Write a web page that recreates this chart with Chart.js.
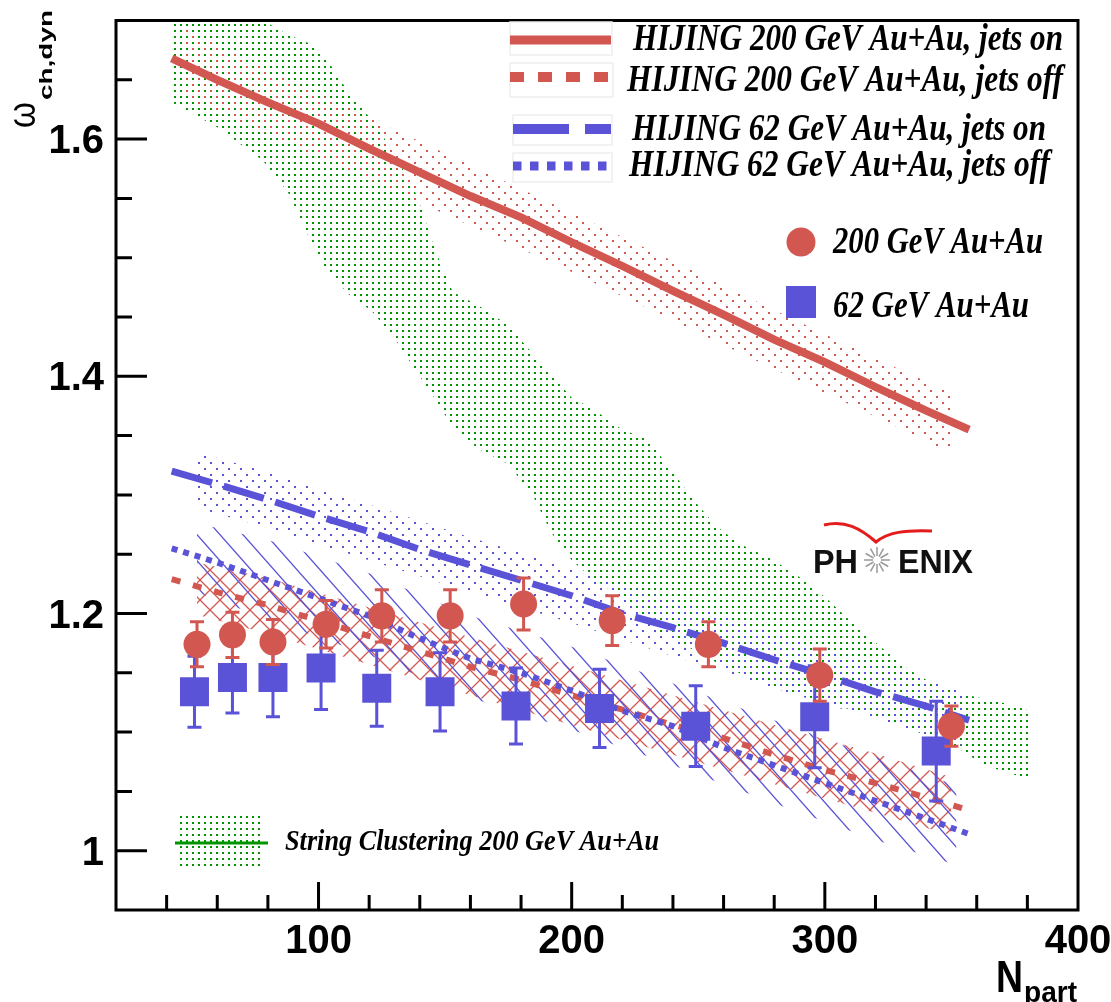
<!DOCTYPE html>
<html>
<head>
<meta charset="utf-8">
<title>omega ch,dyn vs Npart</title>
<script src="https://cdn.jsdelivr.net/npm/chart.js@4.4.1/dist/chart.umd.min.js"></script>
<style>
  html, body { margin: 0; padding: 0; background: #fff; }
  #chart { display: block; }
</style>
</head>
<body>
<canvas id="chart" width="1111" height="1002"></canvas>
<script>
// ---- values ----
const xTickValues = [100, 200, 300, 400];
const yTickValues = [1, 1.2, 1.4, 1.6];
const yTickLabels = ['1', '1.2', '1.4', '1.6'];

// PHENIX data points
const npart200 = [52, 66, 82, 103, 125, 152, 181, 216, 254, 298, 350];
const omega200 = [1.174, 1.182, 1.176, 1.191, 1.198, 1.198, 1.208, 1.194, 1.174, 1.148, 1.105];
const err200 = [0.019, 0.019, 0.019, 0.020, 0.022, 0.022, 0.022, 0.021, 0.019, 0.022, 0.017];

const npart62 = [51, 66, 82, 101, 123, 148, 178, 211, 249, 296, 344];
const omega62 = [1.134, 1.146, 1.146, 1.154, 1.137, 1.134, 1.122, 1.120, 1.105, 1.113, 1.084];
const err62 = [0.030, 0.030, 0.033, 0.035, 0.032, 0.033, 0.032, 0.033, 0.034, 0.043, 0.042];

// HIJING curves
const hijingN = [42, 60, 80, 100, 120, 140, 160, 180, 200, 220, 240, 260, 280, 300, 320, 340, 357];
const hijing200On = [1.668, 1.650, 1.631, 1.613, 1.592, 1.572, 1.552, 1.534, 1.513, 1.493, 1.472, 1.452, 1.431, 1.412, 1.391, 1.371, 1.355];
const hijing200Off = [1.229, 1.218, 1.207, 1.194, 1.181, 1.168, 1.155, 1.144, 1.131, 1.119, 1.106, 1.095, 1.081, 1.068, 1.057, 1.045, 1.034];
const hijing62On = [1.320, 1.309, 1.296, 1.282, 1.269, 1.254, 1.241, 1.228, 1.215, 1.200, 1.188, 1.175, 1.161, 1.148, 1.134, 1.122, 1.110];
const hijing62Off = [1.255, 1.243, 1.228, 1.213, 1.198, 1.179, 1.162, 1.150, 1.135, 1.118, 1.105, 1.087, 1.072, 1.057, 1.042, 1.027, 1.014];

// HIJING error bands
const band200OnN = [46, 80, 120, 160, 200, 240, 280, 320, 350];
const band200OnHi = [1.695, 1.658, 1.618, 1.578, 1.538, 1.497, 1.456, 1.415, 1.386];
const band200OnLo = [1.636, 1.604, 1.566, 1.527, 1.488, 1.447, 1.406, 1.366, 1.335];

const band200OffN = [52, 80, 120, 160, 200, 240, 280, 320, 350];
const band200OffHi = [1.243, 1.230, 1.205, 1.180, 1.156, 1.131, 1.106, 1.082, 1.062];
const band200OffLo = [1.199, 1.183, 1.157, 1.131, 1.106, 1.081, 1.056, 1.032, 1.013];

const band62OnN = [52, 80, 120, 160, 200, 240, 280, 320, 355];
const band62OnHi = [1.336, 1.319, 1.292, 1.264, 1.238, 1.211, 1.184, 1.157, 1.135];
const band62OnLo = [1.289, 1.272, 1.245, 1.218, 1.192, 1.164, 1.137, 1.111, 1.088];

const band62OffN = [52, 80, 120, 160, 200, 240, 280, 320, 352];
const band62OffHi = [1.276, 1.262, 1.234, 1.198, 1.172, 1.141, 1.110, 1.079, 1.055];
const band62OffLo = [1.218, 1.195, 1.165, 1.129, 1.102, 1.072, 1.040, 1.009, 0.988];

// String Clustering band
const stringN = [42, 60, 78, 88, 96, 103, 112, 121, 130, 139, 146, 153, 163, 175, 185, 192, 200, 208, 220, 230,
  241, 250, 257, 266, 277, 288, 300, 311, 322, 333, 344, 353, 363, 372, 381];
const stringHi = [1.72, 1.72, 1.70, 1.688, 1.681, 1.668, 1.639, 1.616, 1.588, 1.552, 1.507, 1.471, 1.460, 1.443, 1.418, 1.401, 1.382, 1.373, 1.355, 1.347,
  1.316, 1.291, 1.274, 1.259, 1.248, 1.234, 1.214, 1.192, 1.172, 1.153, 1.139, 1.133, 1.128, 1.124, 1.118];
const stringLo = [1.631, 1.610, 1.582, 1.555, 1.518, 1.490, 1.469, 1.455, 1.432, 1.403, 1.381, 1.357, 1.339, 1.326, 1.298, 1.268, 1.245, 1.230, 1.213, 1.189,
  1.178, 1.167, 1.159, 1.150, 1.140, 1.131, 1.127, 1.118, 1.112, 1.103, 1.094, 1.086, 1.072, 1.066, 1.060];

const legendLabels = [
  'HIJING 200 GeV Au+Au, jets on',
  'HIJING 200 GeV Au+Au, jets off',
  'HIJING 62 GeV Au+Au, jets on',
  'HIJING 62 GeV Au+Au, jets off',
  '200 GeV Au+Au',
  '62 GeV Au+Au',
];
const stringLabel = 'String Clustering 200 GeV Au+Au';

const RED = '#d35751';
const BLUE = '#5a53d7';
const GREEN = '#009500';

const canvas = document.getElementById('chart');
const ctx0 = canvas.getContext('2d');

function pts(xs, ys) {
  return xs.map((x, i) => ({ x, y: ys[i] }));
}

// small repeating tiles for the ROOT-like fill styles
function makePattern(w, h, draw) {
  const c = document.createElement('canvas');
  c.width = w;
  c.height = h;
  draw(c.getContext('2d'), w, h);
  return ctx0.createPattern(c, 'repeat');
}

function dotTile(color) {
  return (g) => {
    g.fillStyle = color;
    g.fillRect(0, 0, 2, 2);
    g.fillRect(6, 6, 2, 2);
  };
}

function hatch(g, w, h, dir) {
  g.beginPath();
  for (let k = -2; k <= 2; k++) {
    if (dir > 0) {
      g.moveTo(k * w - w, -h);
      g.lineTo(k * w + 2 * w, 2 * h);
    } else {
      g.moveTo(k * w - w, 2 * h);
      g.lineTo(k * w + 2 * w, -h);
    }
  }
  g.stroke();
}

const greenDots = makePattern(6, 6, (g) => {
  g.fillStyle = GREEN;
  g.fillRect(0, 0, 2, 2);
});
const redDots = makePattern(12, 12, dotTile(RED));
const blueDots = makePattern(12, 12, dotTile(BLUE));
const redCross = makePattern(20, 20, (g, w, h) => {
  g.strokeStyle = RED;
  g.lineWidth = 1.3;
  hatch(g, w, h, 1);
  hatch(g, w, h, -1);
});
const blueHatch = makePattern(23, 26, (g, w, h) => {
  g.strokeStyle = BLUE;
  g.lineWidth = 1.3;
  hatch(g, w, h, 1);
});

function bandPair(label, xs, hi, lo, pattern, order) {
  return [
    {
      label: label + ' upper',
      data: pts(xs, hi),
      showLine: true,
      fill: '+1',
      backgroundColor: pattern,
      borderColor: 'rgba(0,0,0,0)',
      borderWidth: 0,
      pointRadius: 0,
      order,
    },
    {
      label: label + ' lower',
      data: pts(xs, lo),
      showLine: true,
      fill: false,
      borderColor: 'rgba(0,0,0,0)',
      borderWidth: 0,
      pointRadius: 0,
      order: order - 0.5,
    },
  ];
}

function curve(label, ys, color, width, dash, order) {
  return {
    label,
    data: pts(hijingN, ys),
    showLine: true,
    fill: false,
    borderColor: color,
    borderWidth: width,
    borderDash: dash,
    pointRadius: 0,
    order,
  };
}

// error bars drawn just before the markers of a dataset
const errorBars = {
  id: 'errorBars',
  beforeDatasetDraw(chart, args) {
    const ds = chart.data.datasets[args.index];
    if (!ds.errorValues) return;
    const yScale = chart.scales.y;
    const ctx = chart.ctx;
    ctx.save();
    ctx.strokeStyle = ds.backgroundColor;
    ctx.lineWidth = 3;
    args.meta.data.forEach((pt, i) => {
      const v = ds.data[i].y;
      const e = ds.errorValues[i];
      const top = yScale.getPixelForValue(v + e);
      const bot = yScale.getPixelForValue(v - e);
      ctx.beginPath();
      ctx.moveTo(pt.x, top);
      ctx.lineTo(pt.x, bot);
      ctx.moveTo(pt.x - 7, top);
      ctx.lineTo(pt.x + 7, top);
      ctx.moveTo(pt.x - 7, bot);
      ctx.lineTo(pt.x + 7, bot);
      ctx.stroke();
    });
    ctx.restore();
  },
};

function fitText(ctx, text, x, y, width, font) {
  ctx.font = font;
  const w = ctx.measureText(text).width;
  ctx.save();
  ctx.translate(x, y);
  ctx.scale(width / w, 1);
  ctx.fillText(text, 0, 0);
  ctx.restore();
}

// frame, inward ticks, labels, legend and logo
const decorations = {
  id: 'decorations',
  afterDraw(chart) {
    const { ctx, chartArea: a } = chart;
    const xs = chart.scales.x;
    const ys = chart.scales.y;
    ctx.save();

    ctx.strokeStyle = '#000';
    ctx.lineWidth = 3;
    ctx.beginPath();
    for (let v = 40; v < 400; v += 20) {
      const px = xs.getPixelForValue(v);
      ctx.moveTo(px, a.bottom);
      ctx.lineTo(px, a.bottom - (v % 100 === 0 ? 28 : 15));
    }
    for (let k = 1; k < 15; k++) {
      const v = 0.95 + 0.05 * k;
      const major = Math.abs(v * 5 - Math.round(v * 5)) < 1e-6;
      const py = ys.getPixelForValue(v);
      ctx.moveTo(a.left, py);
      ctx.lineTo(a.left + (major ? 31 : 16), py);
    }
    ctx.stroke();
    ctx.strokeRect(a.left, a.top, a.right - a.left, a.bottom - a.top);

    // tick labels
    ctx.fillStyle = '#000';
    ctx.font = 'bold 40px "Liberation Sans", Arial, sans-serif';
    ctx.textAlign = 'right';
    ctx.textBaseline = 'alphabetic';
    yTickValues.forEach((v, i) => {
      ctx.fillText(yTickLabels[i], 104, ys.getPixelForValue(v) + 14);
    });
    ctx.textAlign = 'center';
    xTickValues.forEach((v) => {
      ctx.fillText(String(v), xs.getPixelForValue(v), 953);
    });

    // axis titles
    ctx.textAlign = 'left';
    fitText(ctx, 'N', 996, 992, 27, 'bold 44px "Liberation Sans", Arial, sans-serif');
    fitText(ctx, 'part', 1024, 1002, 53, 'bold 30px "Liberation Sans", Arial, sans-serif');

    ctx.save();
    ctx.translate(35, 128);
    ctx.rotate(-Math.PI / 2);
    fitText(ctx, '\u03c9', 0, 0, 26, '38px "Liberation Sans", Arial, sans-serif');
    fitText(ctx, 'ch,dyn', 28, 17, 90, 'bold 19px "Liberation Sans", Arial, sans-serif');
    ctx.restore();

    // legend (top right)
    ctx.strokeStyle = '#eeeeee';
    ctx.lineWidth = 1.5;
    [[510, 22, 102, 33], [510, 63, 103, 34], [513, 115, 99, 30], [513, 153, 99, 29]].forEach((r) => {
      ctx.strokeRect(r[0], r[1], r[2], r[3]);
    });
    const samples = [
      { y: 40, color: RED, width: 9, dash: [], x0: 510 },
      { y: 77, color: RED, width: 10, dash: [14, 14], x0: 510 },
      { y: 129, color: BLUE, width: 10, dash: [56, 16], x0: 513 },
      { y: 166, color: BLUE, width: 9, dash: [8.5, 8.5], x0: 513 },
    ];
    samples.forEach((s) => {
      ctx.save();
      ctx.strokeStyle = s.color;
      ctx.lineWidth = s.width;
      ctx.setLineDash(s.dash);
      ctx.beginPath();
      ctx.moveTo(s.x0, s.y);
      ctx.lineTo(611, s.y);
      ctx.stroke();
      ctx.restore();
    });
    ctx.fillStyle = RED;
    ctx.beginPath();
    ctx.arc(801, 242, 14.5, 0, Math.PI * 2);
    ctx.fill();
    ctx.fillStyle = BLUE;
    ctx.fillRect(786, 286, 30, 32);

    ctx.fillStyle = '#000';
    const serif = 'italic bold 38px "Liberation Serif", "Times New Roman", serif';
    const textPos = [[633, 50, 430], [627, 91, 436], [632, 140, 414], [629, 176, 421], [833, 253, 210], [833, 317, 196]];
    legendLabels.forEach((t, i) => {
      const p = textPos[i];
      fitText(ctx, t, p[0], p[1], p[2], serif);
    });

    // String Clustering legend entry
    ctx.fillStyle = greenDots;
    ctx.fillRect(177, 815, 87, 52);
    ctx.strokeStyle = GREEN;
    ctx.lineWidth = 3;
    ctx.beginPath();
    ctx.moveTo(175, 843);
    ctx.lineTo(268, 843);
    ctx.stroke();
    ctx.fillStyle = '#000';
    fitText(ctx, stringLabel, 285, 850, 374, 'italic bold 30px "Liberation Serif", "Times New Roman", serif');

    // PHENIX logo
    ctx.fillStyle = '#111';
    fitText(ctx, 'PH', 813, 573, 45, 'bold 34px "Liberation Sans", Arial, sans-serif');
    fitText(ctx, 'ENIX', 898, 573, 75, 'bold 34px "Liberation Sans", Arial, sans-serif');
    ctx.strokeStyle = '#9a9a9a';
    ctx.lineWidth = 1.5;
    ctx.beginPath();
    for (let k = 0; k < 12; k++) {
      const ang = (k * Math.PI) / 6;
      ctx.moveTo(877 + Math.cos(ang) * 4, 560 + Math.sin(ang) * 4);
      ctx.lineTo(877 + Math.cos(ang) * 13, 560 + Math.sin(ang) * 13);
    }
    ctx.stroke();
    ctx.strokeStyle = '#e51c1c';
    ctx.lineWidth = 3;
    ctx.beginPath();
    ctx.moveTo(824, 525);
    ctx.bezierCurveTo(845, 520, 860, 528, 876, 542);
    ctx.bezierCurveTo(888, 532, 905, 530, 932, 531);
    ctx.stroke();

    ctx.restore();
  },
};

const datasets = [
  ...bandPair('String Clustering 200 GeV', stringN, stringHi, stringLo, greenDots, 30),
  ...bandPair('HIJING 200 on band', band200OnN, band200OnHi, band200OnLo, redDots, 28),
  ...bandPair('HIJING 200 off band', band200OffN, band200OffHi, band200OffLo, redCross, 26),
  ...bandPair('HIJING 62 on band', band62OnN, band62OnHi, band62OnLo, blueDots, 24),
  ...bandPair('HIJING 62 off band', band62OffN, band62OffHi, band62OffLo, blueHatch, 22),
  curve(legendLabels[0], hijing200On, RED, 8, [], 10),
  curve(legendLabels[1], hijing200Off, RED, 6, [9, 13], 9),
  curve(legendLabels[2], hijing62On, BLUE, 7, [42, 12], 8),
  curve(legendLabels[3], hijing62Off, BLUE, 6, [6, 6], 7),
  {
    label: legendLabels[5],
    data: pts(npart62, omega62),
    errorValues: err62,
    pointStyle: 'rect',
    pointRadius: 20.5,
    backgroundColor: BLUE,
    borderWidth: 0,
    order: 2,
  },
  {
    label: legendLabels[4],
    data: pts(npart200, omega200),
    errorValues: err200,
    pointStyle: 'circle',
    pointRadius: 13.5,
    backgroundColor: RED,
    borderWidth: 0,
    order: 1,
  },
];

new Chart(canvas, {
  type: 'scatter',
  data: { datasets },
  options: {
    responsive: false,
    devicePixelRatio: 1,
    animation: false,
    events: [],
    layout: { padding: { left: 116, right: 33, top: 11, bottom: 92 } },
    scales: {
      x: { type: 'linear', min: 20, max: 400, display: false },
      y: { type: 'linear', min: 0.95, max: 1.70, display: false },
    },
    plugins: {
      legend: { display: false },
      tooltip: { enabled: false },
    },
  },
  plugins: [errorBars, decorations],
});
</script>
</body>
</html>
